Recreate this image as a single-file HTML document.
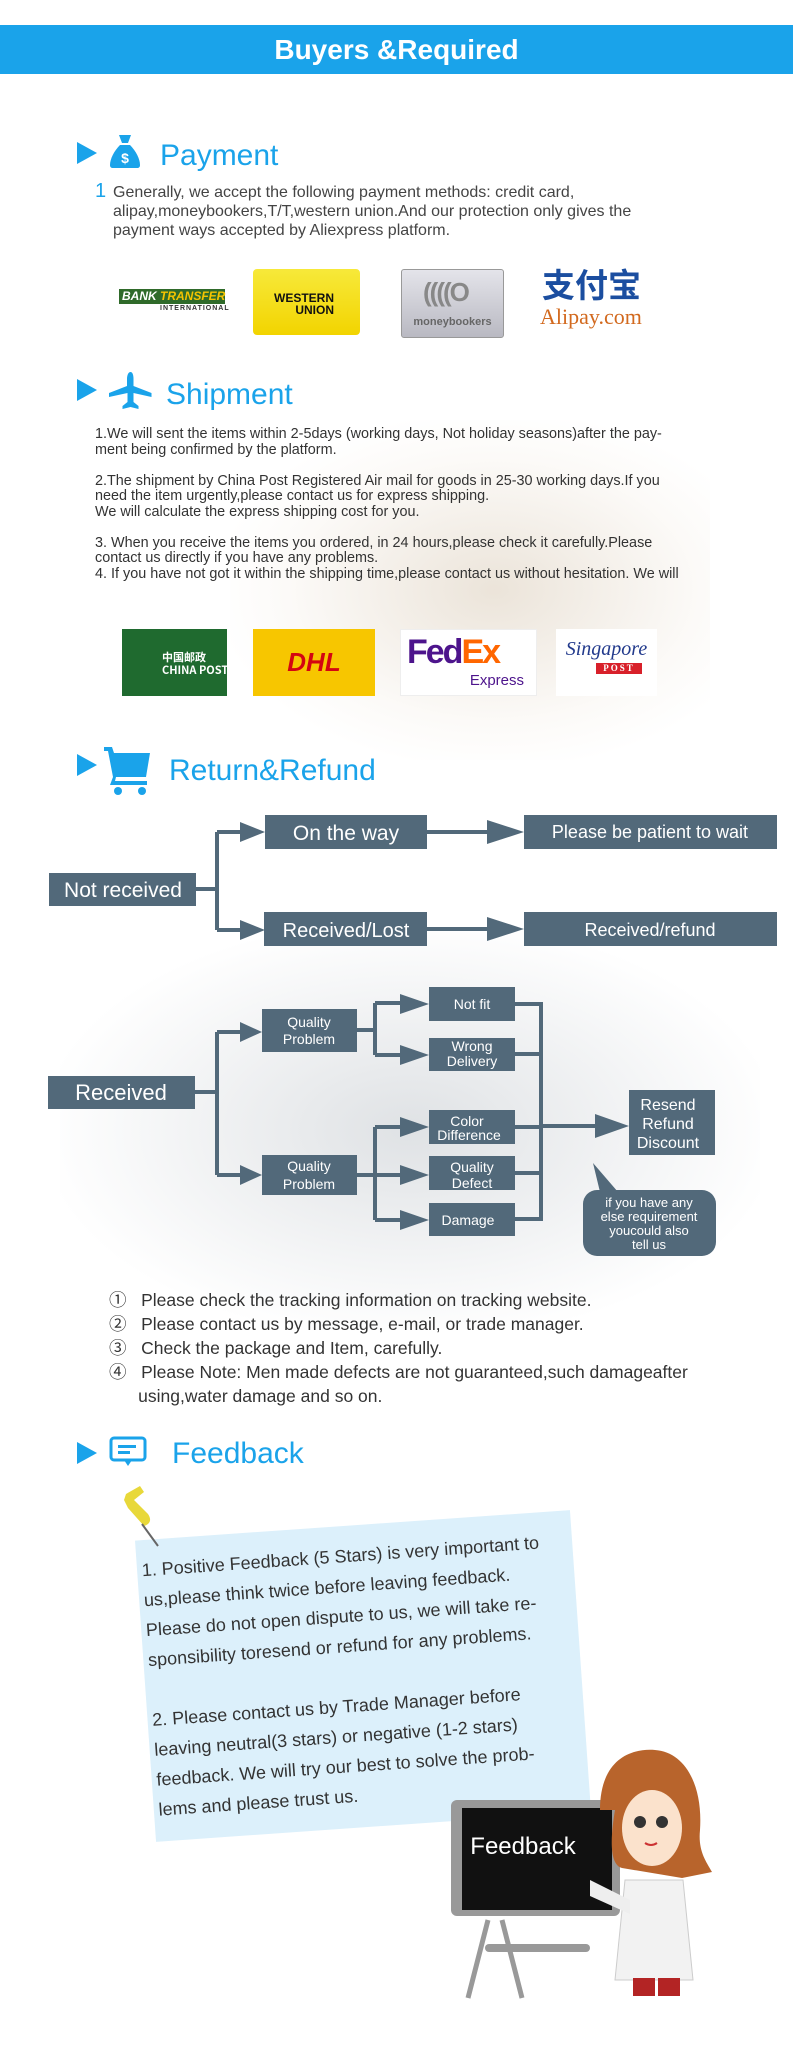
<!DOCTYPE html>
<html><head><meta charset="utf-8">
<style>
*{margin:0;padding:0;box-sizing:border-box}
body{width:793px;height:2063px;background:#fff;position:relative;overflow:hidden;font-family:"Liberation Sans","Noto Sans CJK SC",sans-serif;color:#333}
.a{position:absolute}
.bar{left:0;top:25px;width:793px;height:49px;background:#1aa3ea;color:#fff;font-size:28px;font-weight:bold;text-align:center;line-height:49px}
.tri{width:0;height:0;border-top:11px solid transparent;border-bottom:11px solid transparent;border-left:20px solid #1aa3ea}
.h{color:#1aa3ea;font-size:30px;line-height:36px}
.t{font-size:16px;line-height:19px;color:#444;white-space:nowrap}
.s{font-size:14.4px;line-height:15.5px;color:#333;white-space:nowrap}
.n{font-size:17.5px;color:#333;line-height:24px;white-space:nowrap}
</style></head><body>
<div class="a" style="left:230px;top:420px;width:480px;height:340px;background:radial-gradient(ellipse at 55% 50%,rgba(190,165,130,.3),rgba(230,215,195,.12) 55%,rgba(255,255,255,0) 75%)"></div>
<div class="a" style="left:60px;top:930px;width:700px;height:400px;background:radial-gradient(ellipse at 50% 50%,rgba(140,150,160,.28),rgba(200,205,210,.15) 55%,rgba(255,255,255,0) 75%)"></div>

<div class="a bar">Buyers &amp;Required</div>

<div class="a tri" style="left:77px;top:142px"></div>
<svg class="a" style="left:109px;top:135px" width="32" height="33" viewBox="0 0 32 33"><path d="M10 0h12l-3 8h-6z" fill="#1aa3ea"/><path d="M11 10h10c6 6 10 14 10 20 0 2-1 3-3 3H4c-2 0-3-1-3-3 0-6 4-14 10-20z" fill="#1aa3ea"/><text x="16" y="28" font-size="14" fill="#fff" text-anchor="middle" font-weight="bold" font-family="Liberation Sans">$</text></svg>
<div class="a h" style="left:160px;top:138px">Payment</div>
<div class="a" style="left:95px;top:180px;color:#1aa3ea;font-size:20px">1</div>
<div class="a t" style="left:113px;top:183px">Generally, we accept the following payment methods: credit card,<br>alipay,moneybookers,T/T,western union.And our protection only gives the<br>payment ways accepted by Aliexpress platform.</div>
<div class="a" style="left:119px;top:289px;width:106px;height:15px;background:#2f6a2a;color:#fff;font:bold italic 12px/15px 'Liberation Sans';padding-left:3px;white-space:nowrap">BANK <span style="color:#f5c400">TRANSFER</span></div>
<div class="a" style="left:160px;top:305px;font:bold 7px 'Liberation Sans';letter-spacing:1px;white-space:nowrap">INTERNATIONAL</div>
<div class="a" style="left:253px;top:269px;width:107px;height:66px;background:linear-gradient(#f7e93a,#f2d400);border-radius:4px;font:900 12px/12px 'Liberation Sans';color:#111;padding:23px 0 0 10px;text-align:right;padding-right:26px">WESTERN<br>UNION</div>
<div class="a" style="left:401px;top:269px;width:103px;height:69px;background:linear-gradient(#e4e4ea,#b9b9c2);border:1px solid #999;border-radius:3px;font:bold 11px 'Liberation Sans';color:#666;padding-top:46px;text-align:center">moneybookers</div>
<div class="a" style="left:423px;top:277px;font:bold 26px 'Liberation Sans';color:#888;letter-spacing:-2px">((((O</div>
<div class="a" style="left:542px;top:264px;font:bold 33px/38px 'Noto Sans CJK SC',sans-serif;color:#1b4ea0">支付宝</div>
<div class="a" style="left:540px;top:304px;font:22px 'Liberation Serif',serif;color:#d2691e">Alipay.com</div>

<div class="a tri" style="left:77px;top:379px"></div>
<svg class="a" style="left:109px;top:372px" width="43" height="38" viewBox="0 0 43 38"><path d="M21.5 0c2 0 3 3 3 7v7l18 7v4l-18-4v9l5 4v3l-8-2-8 2v-3l5-4v-9L0 25v-4l18-7V7c0-4 1.5-7 3.5-7z" fill="#1aa3ea"/></svg>
<div class="a h" style="left:166px;top:377px">Shipment</div>
<div class="a s" style="left:95px;top:427px">1.We will sent the items within 2-5days (working days, Not holiday seasons)after the pay-<br>ment being confirmed by the platform.<br><br>2.The shipment by China Post Registered Air mail for goods in 25-30 working days.If you<br>need the item urgently,please contact us for express shipping.<br>We will calculate the express shipping cost for you.<br><br>3. When you receive the items you ordered, in 24 hours,please check it carefully.Please<br>contact us directly if you have any problems.<br>4. If you have not got it within the shipping time,please contact us without hesitation. We will</div>
<div class="a" style="left:122px;top:629px;width:105px;height:67px;background:#1f6a2f;color:#fff;font:bold 11px/13px 'Noto Sans CJK SC',sans-serif;padding:22px 0 0 40px;white-space:nowrap">中国邮政<br>CHINA POST</div>
<div class="a" style="left:253px;top:629px;width:122px;height:67px;background:#f7c600;color:#d40511;font:italic 900 26px/67px 'Liberation Sans';text-align:center">DHL</div>
<div class="a" style="left:400px;top:629px;width:137px;height:67px;background:#fff;border:1px solid #eee;font:bold 34px/44px 'Liberation Sans';padding-left:6px;letter-spacing:-2px"><span style="color:#4d148c">Fed</span><span style="color:#ff6600">Ex</span><div style="font:normal 15px 'Liberation Sans';color:#4d148c;text-align:right;padding-right:12px;line-height:14px;letter-spacing:0">Express</div></div>
<div class="a" style="left:556px;top:629px;width:101px;height:67px;background:#fff;font:italic 20px/40px 'Liberation Serif';color:#223a8c;text-align:center">Singapore<div style="margin:-6px auto 0 40px;width:46px;background:#d8202a;color:#fff;font:bold 9px/11px 'Liberation Serif';letter-spacing:2px">POST</div></div>

<div class="a tri" style="left:77px;top:754px"></div>
<svg class="a" style="left:104px;top:745px" width="48" height="50" viewBox="0 0 48 50"><path d="M0 2h8l2 6h36l-4 24H12l-1 4h32v4H6l3-8L4 6H0z" fill="#1aa3ea"/><circle cx="14" cy="46" r="4" fill="#1aa3ea"/><circle cx="38" cy="46" r="4" fill="#1aa3ea"/></svg>
<div class="a h" style="left:169px;top:753px">Return&amp;Refund</div>

<svg class="a" style="left:0;top:800px" width="793" height="470" viewBox="0 800 793 470" font-family="Liberation Sans">
<g stroke="#52697a" stroke-width="4" fill="none">
<path d="M196 889H217M217 832V930"/>
<path d="M217 832H240" /><path d="M217 930H240"/>
<path d="M427 832H490"/><path d="M427 929H490"/>
<path d="M195 1092H217M217 1032V1175M217 1032H240M217 1175H240"/>
<path d="M357 1030H375M375 1003V1055M375 1003H400M375 1055H400"/>
<path d="M357 1175H375M375 1127V1220M375 1127H400M375 1175H400M375 1220H400"/>
<path d="M515 1004H541M515 1054H541M515 1127H541M515 1173H541M515 1219H541M541 1002V1221M541 1126H600"/>
</g>
<g fill="#52697a">
<path d="M240 822L265 832L240 842z"/><path d="M240 920L265 930L240 940z"/>
<path d="M487 820L524 832L487 844z"/><path d="M487 917L524 929L487 941z"/>
<path d="M240 1022L262 1032L240 1042z"/><path d="M240 1165L262 1175L240 1185z"/>
<path d="M400 994L429 1004L400 1014z"/><path d="M400 1045L429 1055L400 1065z"/>
<path d="M400 1117L429 1127L400 1137z"/><path d="M400 1165L429 1175L400 1185z"/><path d="M400 1210L429 1220L400 1230z"/>
<path d="M595 1114L629 1126L595 1138z"/>
<rect x="49" y="873" width="147" height="33"/>
<rect x="265" y="815" width="162" height="34"/>
<rect x="524" y="815" width="253" height="34"/>
<rect x="264" y="912" width="163" height="34"/>
<rect x="524" y="912" width="253" height="34"/>
<rect x="48" y="1076" width="147" height="33"/>
<rect x="262" y="1009" width="95" height="43"/>
<rect x="262" y="1155" width="95" height="40"/>
<rect x="429" y="987" width="86" height="34"/>
<rect x="429" y="1038" width="86" height="33"/>
<rect x="429" y="1110" width="86" height="34"/>
<rect x="429" y="1156" width="86" height="34"/>
<rect x="429" y="1203" width="86" height="33"/>
<rect x="629" y="1090" width="86" height="65"/>
<rect x="583" y="1190" width="133" height="66" rx="14"/>
<path d="M593 1163L618 1192L600 1192z"/>
</g>
<g fill="#fff" text-anchor="middle">
<text x="123" y="897" font-size="21">Not received</text>
<text x="346" y="840" font-size="21">On the way</text>
<text x="650" y="838" font-size="18">Please be patient to wait</text>
<text x="346" y="937" font-size="20">Received/Lost</text>
<text x="650" y="936" font-size="18">Received/refund</text>
<text x="121" y="1100" font-size="22">Received</text>
<text x="309" y="1027" font-size="14">Quality</text><text x="309" y="1044" font-size="14">Problem</text>
<text x="309" y="1171" font-size="14">Quality</text><text x="309" y="1189" font-size="14">Problem</text>
<text x="472" y="1009" font-size="14">Not fit</text>
<text x="472" y="1051" font-size="14">Wrong</text><text x="472" y="1066" font-size="14">Delivery</text>
<text x="467" y="1126" font-size="14">Color</text><text x="469" y="1140" font-size="14">Difference</text>
<text x="472" y="1172" font-size="14">Quality</text><text x="472" y="1188" font-size="14">Defect</text>
<text x="468" y="1225" font-size="14">Damage</text>
<text x="668" y="1110" font-size="16">Resend</text><text x="668" y="1129" font-size="16">Refund</text><text x="668" y="1148" font-size="16">Discount</text>
<text x="649" y="1207" font-size="13">if you have any</text><text x="649" y="1221" font-size="13">else  requirement</text><text x="649" y="1235" font-size="13">youcould also</text><text x="649" y="1249" font-size="13">tell us</text>
</g>
</svg>

<div class="a n" style="left:109px;top:1288px">
<div>①&nbsp;&nbsp; Please check the tracking information on tracking website.</div>
<div>②&nbsp;&nbsp; Please contact us by message, e-mail, or trade manager.</div>
<div>③&nbsp;&nbsp; Check the package and Item, carefully.</div>
<div>④&nbsp;&nbsp; Please Note: Men made defects are not guaranteed,such damageafter<br>&nbsp;&nbsp;&nbsp;&nbsp;&nbsp; using,water damage and so on.</div>
</div>

<div class="a tri" style="left:77px;top:1442px"></div>
<svg class="a" style="left:109px;top:1436px" width="38" height="32" viewBox="0 0 38 32"><rect x="2" y="2" width="34" height="22" rx="3" fill="#fff" stroke="#1aa3ea" stroke-width="3"/><rect x="9" y="9" width="18" height="3" fill="#1aa3ea"/><rect x="9" y="15" width="12" height="3" fill="#1aa3ea"/><path d="M15 24h8l-4 6z" fill="#1aa3ea"/></svg>
<div class="a h" style="left:172px;top:1436px">Feedback</div>

<div class="a" style="left:145px;top:1525px;width:436px;height:302px;background:#dcf0fb;transform:rotate(-4deg);transform-origin:center"></div>
<div class="a" style="left:150px;top:1540px;width:430px;font-size:18px;line-height:30px;color:#333;transform:rotate(-4deg);transform-origin:center;height:280px;white-space:nowrap">1. Positive Feedback (5 Stars) is very important to<br>us,please think twice before leaving feedback.<br>Please do not open dispute to us, we will take re-<br>sponsibility toresend or refund for any problems.<br><div style="height:30px"></div>2. Please contact us by Trade Manager before<br>leaving neutral(3 stars) or negative (1-2 stars)<br>feedback. We will try our best to solve the prob-<br>lems and please trust us.</div>
<svg class="a" style="left:118px;top:1486px" width="48" height="64" viewBox="0 0 48 64"><path d="M8 8l14-8 4 6-10 8 14 14c4 6 2 10-4 12L10 22 6 14z" fill="#e8d83a"/><path d="M24 38l16 22" stroke="#666" stroke-width="2"/></svg>

<svg class="a" style="left:440px;top:1740px" width="300" height="270" viewBox="0 0 300 270">
<path d="M48 180L28 258M62 180L82 258" stroke="#999" stroke-width="5"/>
<rect x="45" y="204" width="105" height="8" rx="4" fill="#999"/>
<rect x="11" y="60" width="169" height="116" rx="6" fill="#999"/>
<rect x="22" y="68" width="150" height="102" fill="#111"/>
<text x="83" y="114" fill="#fff" font-size="24" text-anchor="middle" font-family="Liberation Sans">Feedback</text>
<path d="M160 70C160 20 190 8 215 10c30 2 48 35 45 80-2 20 5 30 12 42l-30 6-60-10c-15-4-10-40-7-58z" fill="#b8642c"/>
<ellipse cx="212" cy="88" rx="30" ry="38" fill="#fbe2cc"/>
<circle cx="200" cy="82" r="6" fill="#333"/><circle cx="222" cy="82" r="6" fill="#333"/>
<path d="M205 103q6 4 12 0" stroke="#c33" stroke-width="2" fill="none"/>
<path d="M185 140h58l10 100h-78z" fill="#f2f2f2" stroke="#ccc"/>
<path d="M150 140l40 20v14l-40-18z" fill="#eee"/>
<path d="M193 238h22v18h-22zM218 238h22v18h-22z" fill="#b32424"/>
</svg>
</body></html>
